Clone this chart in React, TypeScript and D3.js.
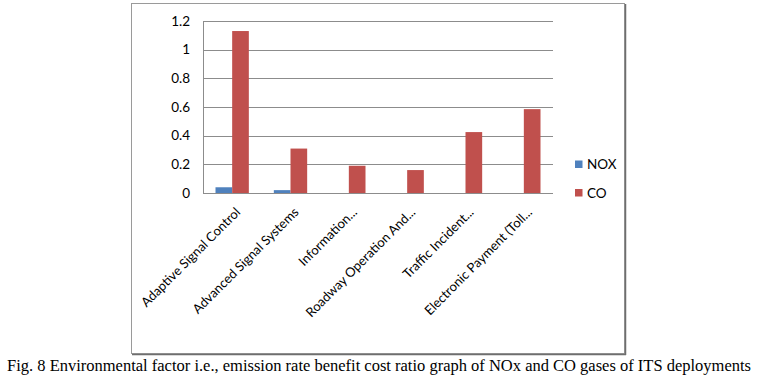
import React from "react";
import * as d3 from "d3";

const categories = [
  "Adaptive Signal Control",
  "Advanced Signal Systems",
  "Information...",
  "Roadway Operation And...",
  "Traffic Incident...",
  "Electronic Payment (Toll...",
];
const seriesNames = ["NOX", "CO"];
const noxValues = [0.04, 0.02, 0, 0, 0, 0];
const coValues = [1.13, 0.31, 0.19, 0.16, 0.425, 0.585];
const yTicks = [0, 0.2, 0.4, 0.6, 0.8, 1, 1.2];
const colors = ["#4F81BD", "#C0504D"];
const caption =
  "Fig. 8 Environmental factor i.e., emission rate benefit cost ratio graph of NOx and CO gases of ITS deployments";

export default function App() {
  const W = 758;
  const H = 382;
  const left = 203;
  const right = 553;
  const top = 21;
  const bottom = 193;
  const font = "Lato, 'Open Sans', sans-serif";

  const x = d3.scaleBand<string>().domain(categories).range([left, right]).paddingInner(0).paddingOuter(0);
  const bw = x.bandwidth();
  const barW = bw / 3.5;
  const y = d3.scaleLinear().domain([0, 1.2]).range([bottom, top]);
  const series = [noxValues, coValues];
  const fmt = (v: number) => (v === 0 ? "0" : String(v));

  return (
    <svg width={W} height={H} style={{ position: "absolute", left: 0, top: 0, background: "#fff" }}>
      <rect x={0} y={0} width={W} height={H} fill="#fff" />
      {/* chart frame */}
      <rect x={131.5} y={3.5} width={493} height={350} fill="#fff" stroke="#9a9a9a" strokeWidth={1} />
      <line x1={625.5} y1={4} x2={625.5} y2={355} stroke="#6e6e6e" strokeWidth={1.5} />
      <line x1={132} y1={354.5} x2={626} y2={354.5} stroke="#6e6e6e" strokeWidth={1.5} />
      {/* gridlines */}
      {yTicks.map((t) => (
        <line key={"g" + t} x1={left} x2={right} y1={Math.round(y(t)) + 0.5} y2={Math.round(y(t)) + 0.5} stroke="#8c8c8c" strokeWidth={1} />
      ))}
      {/* axis lines */}
      <line x1={left + 0.5} x2={left + 0.5} y1={top} y2={bottom + 1} stroke="#8c8c8c" />
      {/* y tick labels */}
      {yTicks.map((t) => (
        <text key={"t" + t} x={190} y={y(t)} dy="0.35em" textAnchor="end" fontFamily={font} fontSize={13.5} fill="#000">
          {fmt(t)}
        </text>
      ))}
      {/* bars */}
      {categories.map((c, i) => {
        const x0 = (x(c) as number) + (bw - 2 * barW) / 2;
        return series.map((vals, s) => {
          const v = vals[i];
          if (v <= 0) return null;
          return (
            <rect
              key={c + s}
              x={x0 + s * barW}
              y={y(v)}
              width={barW}
              height={y(0) - y(v)}
              fill={colors[s]}
            />
          );
        });
      })}
      {/* x labels */}
      {categories.map((c) => {
        const cx = (x(c) as number) + bw / 2;
        return (
          <text
            key={"l" + c}
            transform={`translate(${cx + 9},${bottom + 20}) rotate(-45)`}
            textAnchor="end"
            fontFamily={font}
            fontSize={13}
            fill="#000"
          >
            {c}
          </text>
        );
      })}
      {/* legend */}
      {seriesNames.map((n, i) => (
        <g key={n} transform={`translate(575,${160.5 + i * 28.5})`}>
          <rect x={0} y={0} width={7.5} height={7.5} fill={colors[i]} />
          <text x={12} y={4} dy="0.35em" fontFamily={font} fontSize={13.5} fill="#000">
            {n}
          </text>
        </g>
      ))}
      {/* caption */}
      <g transform="translate(379,371) scale(1,1.12)">
        <text x={0} y={0} textAnchor="middle" fontFamily="'Liberation Serif', 'Times New Roman', serif" fontSize={15} textLength={744} lengthAdjust="spacingAndGlyphs" fill="#000">
          {caption}
        </text>
      </g>
    </svg>
  );
}
